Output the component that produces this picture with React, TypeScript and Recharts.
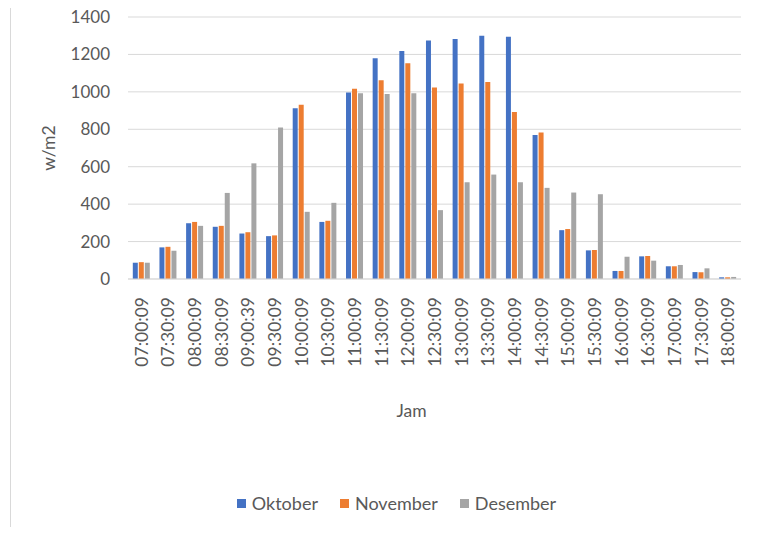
import { BarChart, Bar, XAxis, YAxis, CartesianGrid, Legend, Label } from "recharts";

const categories = [
  "07:00:09", "07:30:09", "08:00:09", "08:30:09", "09:00:39", "09:30:09",
  "10:00:09", "10:30:09", "11:00:09", "11:30:09", "12:00:09", "12:30:09",
  "13:00:09", "13:30:09", "14:00:09", "14:30:09", "15:00:09", "15:30:09",
  "16:00:09", "16:30:09", "17:00:09", "17:30:09", "18:00:09",
];

const oktober = [
  87, 169, 298, 279, 243, 229, 913, 305, 996, 1179, 1218, 1275,
  1282, 1300, 1295, 769, 261, 153, 43, 121, 68, 37, 9,
];

const november = [
  90, 172, 305, 284, 250, 233, 931, 311, 1016, 1062, 1153, 1023,
  1044, 1053, 893, 783, 267, 155, 43, 123, 68, 36, 9,
];

const desember = [
  87, 151, 284, 460, 618, 810, 359, 407, 993, 988, 993, 368,
  517, 558, 517, 487, 462, 453, 119, 98, 75, 57, 11,
];

const yTicks = [0, 200, 400, 600, 800, 1000, 1200, 1400];

const seriesList = [
  { key: "Oktober", color: "#4472C4" },
  { key: "November", color: "#ED7D31" },
  { key: "Desember", color: "#A5A5A5" },
];

const data = categories.map((jam, i) => ({
  jam,
  Oktober: oktober[i],
  November: november[i],
  Desember: desember[i],
}));

const FONT = "Lato, 'Open Sans', sans-serif";
const TEXT = "#595959";

function TimeTick({ x, y, payload }: any) {
  return (
    <text
      x={x}
      y={y + 10}
      transform={`rotate(-90, ${x}, ${y + 10})`}
      textAnchor="end"
      dominantBaseline="central"
      fontSize={17.5}
      fontFamily={FONT}
      fill={TEXT}
    >
      {payload.value}
    </text>
  );
}

function LegendRow() {
  return (
    <div
      style={{
        display: "flex",
        justifyContent: "center",
        gap: 22,
        paddingLeft: 52,
        fontFamily: FONT,
        fontSize: 18,
        color: TEXT,
      }}
    >
      {seriesList.map((s) => (
        <div key={s.key} style={{ display: "flex", alignItems: "center", gap: 6 }}>
          <span style={{ width: 9, height: 9, background: s.color, display: "inline-block" }} />
          <span>{s.key}</span>
        </div>
      ))}
    </div>
  );
}

export default function App() {
  return (
    <div style={{ position: "relative", width: 763, height: 535, margin: -8, background: "#fff" }}>
      <div
        style={{
          position: "absolute",
          left: 10,
          top: 2,
          width: 760,
          height: 531,
          border: "1px solid #d9d9d9",
          boxSizing: "border-box",
        }}
      />
      <BarChart
        width={763}
        height={535}
        data={data}
        margin={{ top: 17, right: 22, bottom: 17, left: 0 }}
        barCategoryGap="18%"
        barGap={1}
      >
        <CartesianGrid vertical={false} stroke="#d9d9d9" />
        <XAxis
          dataKey="jam"
          height={213}
          interval={0}
          tickLine={false}
          axisLine={{ stroke: "#d9d9d9" }}
          tick={<TimeTick />}
        >
          <Label
            content={({ viewBox }: any) => (
              <text
                x={viewBox.x + viewBox.width / 2 - 23}
                y={410}
                textAnchor="middle"
                dominantBaseline="central"
                fontSize={17.5}
                fontFamily={FONT}
                fill={TEXT}
              >
                Jam
              </text>
            )}
          />
        </XAxis>
        <YAxis
          width={128}
          domain={[0, 1400]}
          ticks={yTicks}
          tickLine={false}
          axisLine={false}
          tick={{ fontSize: 17, fontFamily: FONT, fill: TEXT }}
          tickMargin={12}
        >
          <Label
            value="w/m2"
            angle={-90}
            position="insideLeft"
            offset={49}
            style={{ fontSize: 17.5, fontFamily: FONT, fill: TEXT, textAnchor: "middle" }}
          />
        </YAxis>
        <Legend verticalAlign="bottom" height={26} content={() => <LegendRow />} />
        {seriesList.map((s) => (
          <Bar key={s.key} dataKey={s.key} fill={s.color} isAnimationActive={false} />
        ))}
      </BarChart>
    </div>
  );
}
